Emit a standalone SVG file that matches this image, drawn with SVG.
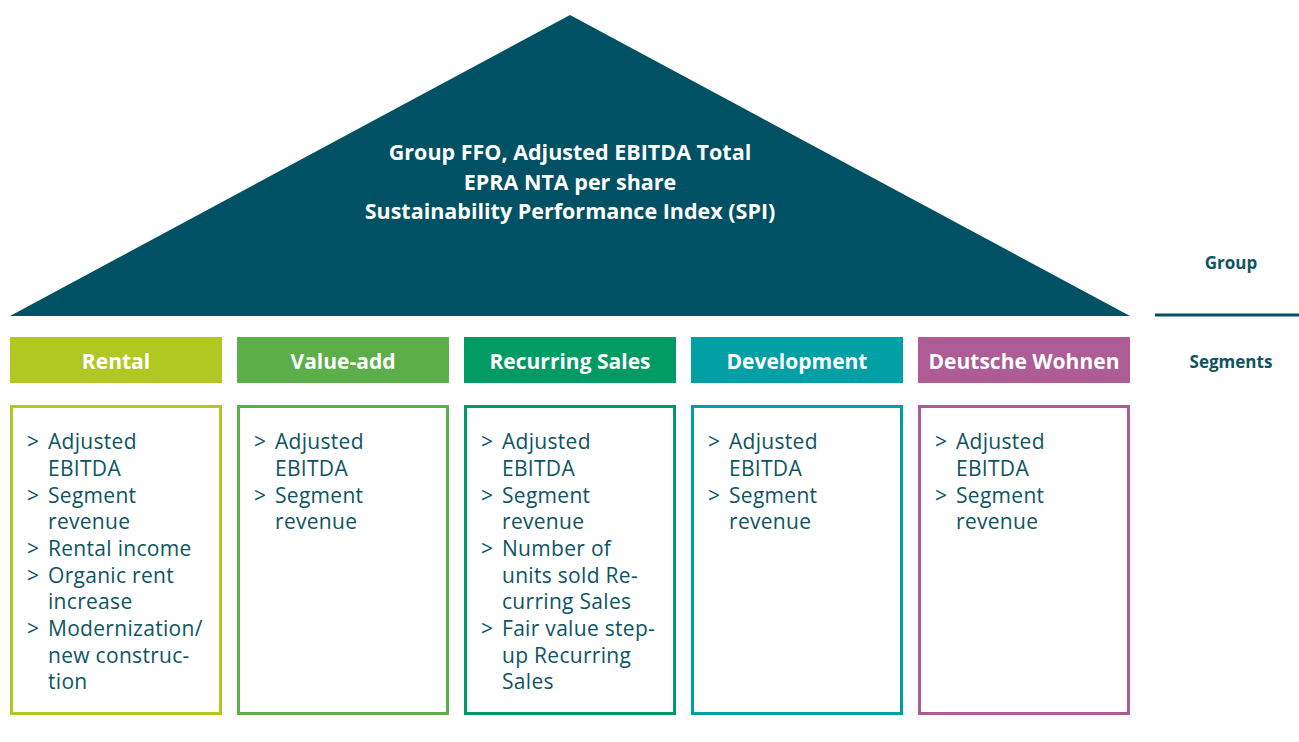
<svg xmlns="http://www.w3.org/2000/svg" width="1299" height="742" viewBox="0 0 1299 742">
<style>
.tri{font-family:"Open Sans","Liberation Sans",sans-serif;font-weight:700;font-size:21.5px;fill:#ffffff;text-anchor:middle;}
.hd{font-family:"Open Sans","Liberation Sans",sans-serif;font-weight:700;font-size:21px;fill:#ffffff;text-anchor:middle;}
.side{font-family:"Open Sans","Liberation Sans",sans-serif;font-weight:700;font-size:17px;fill:#0e5463;text-anchor:middle;}
.li{font-family:"Open Sans","Liberation Sans",sans-serif;font-size:21px;letter-spacing:0.3px;fill:#0e5463;}
.box{fill:#ffffff;stroke-width:3;}
</style>
<rect width="1299" height="742" fill="#ffffff"/>
<g id="group">
<polygon points="570,15 1130,316 10,316" fill="#005163"/>
<text class="tri" x="570" y="160">Group FFO, Adjusted EBITDA Total</text>
<text class="tri" x="570" y="190">EPRA NTA per share</text>
<text class="tri" x="570" y="219">Sustainability Performance Index (SPI)</text>
</g>
<g id="legend">
<text class="side" x="1231" y="269">Group</text>
<line x1="1155" y1="315" x2="1299" y2="315" stroke="#005163" stroke-width="3"/>
<text class="side" x="1231" y="368">Segments</text>
</g>
<g id="rental">
<rect x="10" y="337" width="212" height="46" fill="#b1c822"/>
<text class="hd" x="116" y="369">Rental</text>
<rect class="box" x="11.5" y="406.5" width="209" height="307" stroke="#b1c822"/>
<g class="li">
<text x="27" y="449">&gt;</text><text x="48" y="449">Adjusted</text>
<text x="48" y="476">EBITDA</text>
<text x="27" y="503">&gt;</text><text x="48" y="503">Segment</text>
<text x="48" y="529">revenue</text>
<text x="27" y="556">&gt;</text><text x="48" y="556">Rental income</text>
<text x="27" y="583">&gt;</text><text x="48" y="583">Organic rent</text>
<text x="48" y="609">increase</text>
<text x="27" y="636">&gt;</text><text x="48" y="636">Modernization/</text>
<text x="48" y="663">new construc-</text>
<text x="48" y="689">tion</text>
</g>
</g>
<g id="value-add">
<rect x="237" y="337" width="212" height="46" fill="#5bae48"/>
<text class="hd" x="343" y="369">Value-add</text>
<rect class="box" x="238.5" y="406.5" width="209" height="307" stroke="#5bae48"/>
<g class="li">
<text x="254" y="449">&gt;</text><text x="275" y="449">Adjusted</text>
<text x="275" y="476">EBITDA</text>
<text x="254" y="503">&gt;</text><text x="275" y="503">Segment</text>
<text x="275" y="529">revenue</text>
</g>
</g>
<g id="recurring-sales">
<rect x="464" y="337" width="212" height="46" fill="#009a65"/>
<text class="hd" x="570" y="369">Recurring Sales</text>
<rect class="box" x="465.5" y="406.5" width="209" height="307" stroke="#009a65"/>
<g class="li">
<text x="481" y="449">&gt;</text><text x="502" y="449">Adjusted</text>
<text x="502" y="476">EBITDA</text>
<text x="481" y="503">&gt;</text><text x="502" y="503">Segment</text>
<text x="502" y="529">revenue</text>
<text x="481" y="556">&gt;</text><text x="502" y="556">Number of</text>
<text x="502" y="583">units sold Re-</text>
<text x="502" y="609">curring Sales</text>
<text x="481" y="636">&gt;</text><text x="502" y="636">Fair value step-</text>
<text x="502" y="663">up Recurring</text>
<text x="502" y="689">Sales</text>
</g>
</g>
<g id="development">
<rect x="691" y="337" width="212" height="46" fill="#00a0a6"/>
<text class="hd" x="797" y="369">Development</text>
<rect class="box" x="692.5" y="406.5" width="209" height="307" stroke="#00a0a6"/>
<g class="li">
<text x="708" y="449">&gt;</text><text x="729" y="449">Adjusted</text>
<text x="729" y="476">EBITDA</text>
<text x="708" y="503">&gt;</text><text x="729" y="503">Segment</text>
<text x="729" y="529">revenue</text>
</g>
</g>
<g id="deutsche-wohnen">
<rect x="918" y="337" width="212" height="46" fill="#ad5c95"/>
<text class="hd" x="1024" y="369">Deutsche Wohnen</text>
<rect class="box" x="919.5" y="406.5" width="209" height="307" stroke="#ad5c95"/>
<g class="li">
<text x="935" y="449">&gt;</text><text x="956" y="449">Adjusted</text>
<text x="956" y="476">EBITDA</text>
<text x="935" y="503">&gt;</text><text x="956" y="503">Segment</text>
<text x="956" y="529">revenue</text>
</g>
</g>
<g id="connectors"></g>
</svg>
